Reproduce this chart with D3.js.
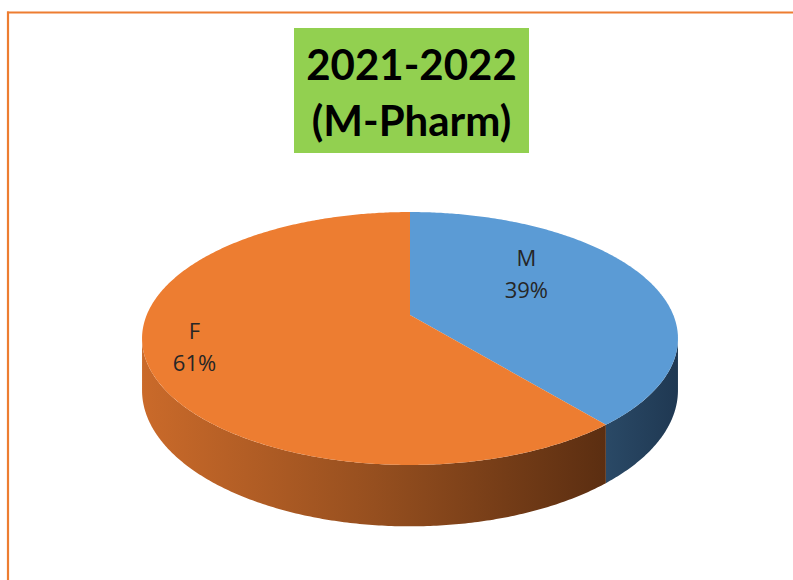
<!DOCTYPE html>
<html>
<head>
<meta charset="utf-8">
<script src="https://cdn.jsdelivr.net/npm/d3@7/dist/d3.min.js"></script>
<style>
  html, body { margin: 0; padding: 0; background: #ffffff; }
  svg { display: block; }
</style>
</head>
<body>
<svg id="chart" width="793" height="580"></svg>
<script>
// ---- data ----
const categories = ["M", "F"];
const values = [39, 61];
const titleLines = ["2021-2022", "(M-Pharm)"];

// ---- styles / layout ----
const topColors = ["#5B9BD5", "#ED7D31"];
const W = 793, H = 580;
const cx = 410, cy = 315;     // apex of the pie on screen
const B = 263.3;              // horizontal radius factor
const A = 122.1;              // vertical radius factor
const k = 0.1857;             // perspective strength
const D = 50;                 // side depth
// label anchor (angle in degrees, relative radius) for each slice
const labelLayout = [{ang: 53, r: 0.59}, {ang: 252, r: 0.82}];

const svg = d3.select("#chart");
const defs = svg.append("defs");

// border
svg.append("line").attr("x1", 7).attr("x2", W).attr("y1", 12.5).attr("y2", 12.5)
  .attr("stroke", "#ED7D31").attr("stroke-width", 2.2);
svg.append("line").attr("x1", 8).attr("x2", 8).attr("y1", 11.5).attr("y2", H)
  .attr("stroke", "#ED7D31").attr("stroke-width", 2.2);

// title
svg.append("rect").attr("x", 294).attr("y", 28).attr("width", 235).attr("height", 125)
  .attr("fill", "#92D050");
svg.append("g").selectAll("text").data(titleLines).join("text")
  .attr("x", 411.5).attr("y", (d, i) => 80 + i * 56)
  .attr("text-anchor", "middle")
  .attr("font-family", "Lato, 'Open Sans', sans-serif")
  .attr("font-weight", 700).attr("font-size", 42)
  .attr("fill", "#000").text(d => d);

// projection
function proj(theta, rho, drop) {
  const X = rho * Math.sin(theta), Z = -rho * Math.cos(theta);
  const w = 1 - k * Z;
  return [cx + B * X / w, cy + A * Z / w + (drop || 0) / w];
}
function arcPoints(a0, a1, drop) {
  const n = Math.max(2, Math.ceil(Math.abs(a1 - a0) / 0.01));
  return d3.range(n + 1).map(i => proj(a0 + (a1 - a0) * i / n, 1, drop));
}

const pie = d3.pie().sort(null).value(d => d)(values);

// visible front range (silhouette where Z = k)
const thR = Math.acos(-k), thL = 2 * Math.PI - Math.acos(-k);

// gradients for sides
const sideGrads = [
  [["0", "#2A4966"], ["1", "#1F3852"]],
  [["0", "#CA6A2A"], ["0.5", "#964F1F"], ["1", "#5B2E11"]]
];

const line = d3.line();
const gSide = svg.append("g");
pie.forEach((p, i) => {
  const s = Math.max(p.startAngle, thR), e = Math.min(p.endAngle, thL);
  if (e <= s) return;
  const topPts = arcPoints(s, e, 0);
  const botPts = arcPoints(s, e, D).reverse();
  const xs = topPts.map(q => q[0]);
  const gid = "side" + i;
  const lg = defs.append("linearGradient").attr("id", gid)
    .attr("gradientUnits", "userSpaceOnUse")
    .attr("x1", d3.min(xs)).attr("x2", d3.max(xs)).attr("y1", 0).attr("y2", 0);
  sideGrads[i].forEach(st => lg.append("stop").attr("offset", st[0]).attr("stop-color", st[1]));
  gSide.append("path")
    .attr("d", line(topPts.concat(botPts)) + "Z")
    .attr("fill", `url(#${gid})`);
});

// top faces
const gTop = svg.append("g");
pie.forEach((p, i) => {
  const pts = [[cx, cy]].concat(arcPoints(p.startAngle, p.endAngle, 0));
  gTop.append("path").attr("d", line(pts) + "Z").attr("fill", topColors[i]);
});

// labels
const total = d3.sum(values);
const gLab = svg.append("g")
  .attr("font-family", "'Open Sans', sans-serif").attr("font-size", 22)
  .attr("fill", "#262626").attr("text-anchor", "middle");
pie.forEach((p, i) => {
  const L = labelLayout[i];
  const [lx, ly] = proj(L.ang * Math.PI / 180, L.r, 0);
  gLab.append("text").attr("x", lx).attr("y", ly - 8).text(categories[i]);
  gLab.append("text").attr("x", lx).attr("y", ly + 24)
    .text(Math.round(values[i] / total * 100) + "%");
});
</script>
</body>
</html>
